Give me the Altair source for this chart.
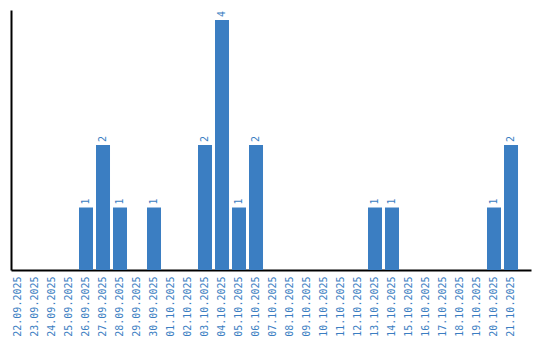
import altair as alt
import pandas as pd

dates = ["22.09.2025", "23.09.2025", "24.09.2025", "25.09.2025", "26.09.2025",
         "27.09.2025", "28.09.2025", "29.09.2025", "30.09.2025", "01.10.2025",
         "02.10.2025", "03.10.2025", "04.10.2025", "05.10.2025", "06.10.2025",
         "07.10.2025", "08.10.2025", "09.10.2025", "10.10.2025", "11.10.2025",
         "12.10.2025", "13.10.2025", "14.10.2025", "15.10.2025", "16.10.2025",
         "17.10.2025", "18.10.2025", "19.10.2025", "20.10.2025", "21.10.2025"]
counts = [0, 0, 0, 0, 1, 2, 1, 0, 1, 0, 0, 2, 4, 1, 2,
          0, 0, 0, 0, 0, 0, 1, 1, 0, 0, 0, 0, 0, 1, 2]

df = pd.DataFrame({"date": dates, "count": counts})
color = "#3b7ec2"
font = "DejaVu Sans Mono"

x = alt.X("date:N", sort=dates,
          scale=alt.Scale(paddingInner=0.176, paddingOuter=0.382, align=0),
          axis=alt.Axis(title=None, labelAngle=-90, labelColor=color, labelFont=font,
                        labelFontSize=10, ticks=False, domainColor="black",
                        domainWidth=2, labelPadding=6))
y = alt.Y("count:Q", scale=alt.Scale(domain=[0, 4.16], nice=False),
          axis=alt.Axis(title=None, labels=False, ticks=False, grid=False,
                        domainColor="black", domainWidth=2))

base = alt.Chart(df).encode(x=x, y=y)
bars = base.mark_bar(color=color)
labels = base.transform_filter("datum.count > 0").mark_text(
    angle=270, align="left", baseline="middle", dx=3, color=color,
    font=font, fontSize=10).encode(text="count:Q")

chart = (bars + labels).properties(
    width=520, height=260,
    autosize=alt.AutoSizeParams(type="none"),
    padding={"left": 11, "top": 10, "right": 9, "bottom": 70},
).configure_view(stroke=None)

chart.save("out.html", embed_options={"renderer": "svg", "actions": False})
